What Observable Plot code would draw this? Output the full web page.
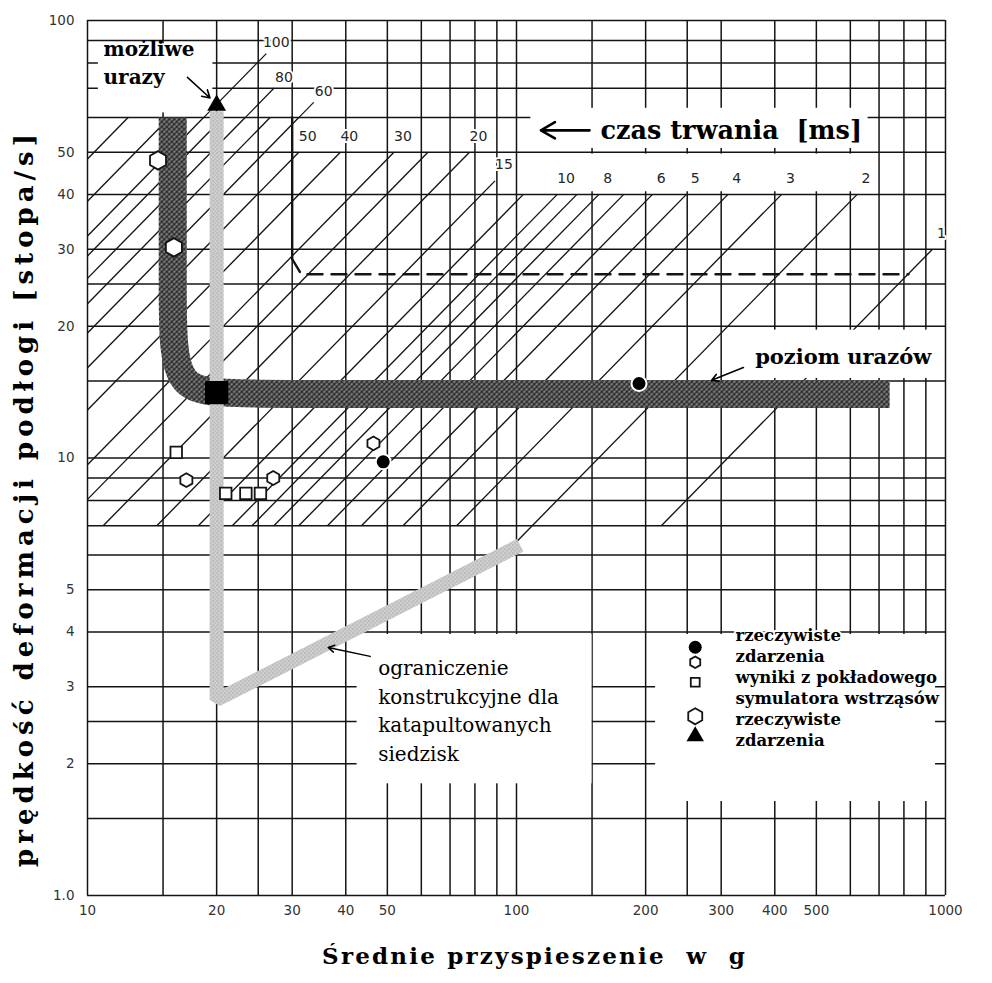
<!DOCTYPE html>
<html lang="pl">
<head>
<meta charset="utf-8">
<title>Poziom urazów – prędkość deformacji podłogi</title>
<script src="https://cdn.jsdelivr.net/npm/d3@7"></script>
<script src="https://cdn.jsdelivr.net/npm/@observablehq/plot@0.6"></script>
<style>
  html, body { margin: 0; padding: 0; background: #fff; }
  #chart svg { display: block; }
</style>
</head>
<body>
<div id="chart"></div>
<script>
// ---- Graph-paper rulings and axis ticks (log–log) ----
const gridG = [10, 15, 20, 25, 30, 40, 50, 60, 70, 80, 90, 100, 150, 200, 250, 300, 400, 500, 600, 700, 800, 900, 1000];
const gridV = [1, 1.5, 2, 2.5, 3, 4, 5, 6, 7, 8, 9, 10, 15, 20, 25, 30, 40, 50, 60, 70, 80, 90, 100];
const tickG = [10, 20, 30, 40, 50, 100, 200, 300, 400, 500, 1000];
const tickV = [1, 2, 3, 4, 5, 10, 20, 30, 40, 50, 100];

// ---- Constant-duration lines [ms], each running between a lower and an upper velocity [ft/s] ----
const durationMs   = [150, 120, 100, 90, 80, 70, 60, 50, 40, 30, 25, 20, 15, 12, 10, 9, 8, 7, 6, 5, 4, 3, 2, 1];
const durationTopV = [60, 60, 60, 60, 60, 60, 60, 50, 50, 50, 50, 50, 43, 40, 40, 40, 40, 40, 40, 40, 40, 40, 40, 30];
const durationLowV = [7, 7, 7, 7, 7, 7, 7, 7, 7, 7, 7, 7, 7, 7, 7, 7, 7, 7, 7, 7, 7, 7, 6.1, 7];
const durationLabelled = [100, 80, 60, 50, 40, 30, 20, 15, 10, 8, 6, 5, 4, 3, 2, 1];
// lines continued above the hatched field up to their labels
const leaderMs   = [100, 80, 60];
const leaderTopV = [84, 70, 65];

// ---- Injury level band (control points of the rounded L) ----
const injuryG = [15.8, 15.8, 15.8, 22.5, 741];
const injuryV = [60, 23, 14, 14, 14];

// ---- Design limit for ejection seats ----
const seatG = [20, 20, 102];
const seatV = [62, 2.8, 6.32];

// ---- Dashed boundary ----
const boundG = [30, 30, 31.5, 820];
const boundV = [60, 28.5, 26.3, 26.3];

// ---- Observations ----
const eventsFilled   = [{g: 48.9, v: 9.8}, {g: 193, v: 14.8}];                     // rzeczywiste zdarzenia ●
const eventsSmall    = [{g: 17.0, v: 8.9}, {g: 27.1, v: 9.0}, {g: 46.4, v: 10.8}];   // rzeczywiste zdarzenia ○
const simulator      = [{g: 16.1, v: 10.3}, {g: 21.0, v: 8.3}, {g: 23.4, v: 8.3}, {g: 25.3, v: 8.3}]; // symulator □
const eventsLarge    = [{g: 14.6, v: 47.9}, {g: 15.9, v: 30.3}];                    // rzeczywiste zdarzenia ◇
const eventsInjury   = [{g: 20, v: 64}];                                             // ▲
const bandJunction   = [{g: 20, v: 14.1}];

const legendLines = ["rzeczywiste", "zdarzenia", "wyniki z pokładowego", "symulatora wstrząsów", "rzeczywiste", "zdarzenia"];

const X_TITLE = "Średnie przyspieszenie  w  g";
const Y_TITLE = "prędkość deformacji podłogi [stopa/s]";

// ---- Derived geometry ----
const FT_S_PER_G_MS = 0.032174; // velocity gained by 1 g held for 1 ms, ft/s
const hatch = durationMs.map((t, i) => {
  const k = FT_S_PER_G_MS * t;
  let g1 = durationLowV[i] / k, v1 = durationLowV[i];
  if (g1 < 10) { g1 = 10; v1 = k * 10; }
  return {t, g1, v1, g2: durationTopV[i] / k, v2: durationTopV[i]};
});
const leaders = leaderMs.map((t, i) => {
  const k = FT_S_PER_G_MS * t;
  const v1 = durationTopV[durationMs.indexOf(t)];
  return {t, g1: v1 / k, v1, g2: leaderTopV[i] / k, v2: leaderTopV[i]};
});
const durationLabels = durationLabelled.map(t => {
  const k = FT_S_PER_G_MS * t;
  const li = leaderMs.indexOf(t);
  const v = li >= 0 ? leaderTopV[li] : durationTopV[durationMs.indexOf(t)];
  return {t, g: v / k, v, leader: li >= 0};
});
const injuryPath = injuryG.map((g, i) => ({g, v: injuryV[i]}));
const seatPath = seatG.map((g, i) => ({g, v: seatV[i]}));
const boundPath = boundG.map((g, i) => ({g, v: boundV[i]}));

// white label panels that interrupt the ruling
const panels = [
  {g1: 10.6, g2: 19.6, v1: 61.5, v2: 88.5},
  {g1: 108, g2: 660, v1: 51, v2: 63},
  {g1: 108, g2: 680, v1: 40.6, v2: 49.5},
  {g1: 320, g2: 950, v1: 15.2, v2: 19.6},
  {g1: 42.5, g2: 150, v1: 1.8, v2: 3.95},
  {g1: 211, g2: 948, v1: 1.64, v2: 3.95}
];

const SERIF = "DejaVu Serif, Liberation Serif, serif";
const SANS = "DejaVu Sans, Liberation Sans, sans-serif";
const INK = "#141414";

const legendAt = {g: 261, v: 3.0};
const legendTextAt = {g: 324, v: 3.0};

const labelStyle = {fontSize: 14, fill: "#262626", stroke: "#fff", strokeWidth: 4, paintOrder: "stroke", fontFamily: SANS};

const chart = Plot.plot({
  width: 992,
  height: 983,
  marginLeft: 87,
  marginRight: 47,
  marginTop: 20,
  marginBottom: 88,
  x: {type: "log", domain: [10, 1000]},
  y: {type: "log", domain: [1, 100]},
  style: {background: "#fff", color: INK, fontFamily: SANS, overflow: "visible"},
  marks: [
    // ruling
    Plot.ruleX(gridG, {stroke: INK, strokeWidth: 1.5}),
    Plot.ruleY(gridV, {stroke: INK, strokeWidth: 1.5}),
    // constant-duration hatch
    Plot.link(hatch, {x1: "g1", y1: "v1", x2: "g2", y2: "v2", stroke: INK, strokeWidth: 1.35}),
    // label panels
    Plot.rect(panels, {x1: "g1", x2: "g2", y1: "v1", y2: "v2", fill: "#fff"}),
    Plot.link(leaders, {x1: "g1", y1: "v1", x2: "g2", y2: "v2", stroke: INK, strokeWidth: 1.2}),
    // dashed boundary
    Plot.line(boundPath.slice(0, 2), {x: "g", y: "v", stroke: INK, strokeWidth: 2.4}),
    Plot.line(boundPath.slice(1), {x: "g", y: "v", stroke: INK, strokeWidth: 2.4, strokeDasharray: "15,9"}),
    // injury level band
    Plot.line(injuryPath, {x: "g", y: "v", curve: "basis", stroke: "url(#weave)", strokeWidth: 28, strokeLinecap: "butt"}),
    // ejection seat design limit
    Plot.line(seatPath, {x: "g", y: "v", stroke: "url(#stipple)", strokeWidth: 14, strokeLinejoin: "bevel", strokeLinecap: "butt"}),
    Plot.dot(bandJunction, {x: "g", y: "v", symbol: "square", r: 12, fill: "#000", stroke: "#000", strokeWidth: 2, strokeLinejoin: "round"}),
    // observations
    Plot.dot(simulator, {x: "g", y: "v", symbol: "square", r: 6.5, fill: "#fff", stroke: INK, strokeWidth: 1.8}),
    Plot.dot(eventsSmall, {x: "g", y: "v", symbol: "hexagon", r: 6, fill: "#fff", stroke: INK, strokeWidth: 1.8}),
    Plot.dot(eventsLarge, {x: "g", y: "v", symbol: "hexagon", r: 8, fill: "#fff", stroke: INK, strokeWidth: 1.8}),
    Plot.dot(eventsFilled, {x: "g", y: "v", r: 7.5, fill: "#000", stroke: "#fff", strokeWidth: 2}),
    Plot.dot(eventsInjury, {x: "g", y: "v", symbol: "triangle", r: 7, fill: "#000"}),
    // duration labels
    Plot.text(durationLabels.filter(d => !d.leader), {x: "g", y: "v", text: d => String(d.t), dx: 9, dy: -16, ...labelStyle}),
    Plot.text(durationLabels.filter(d => d.leader), {x: "g", y: "v", text: d => String(d.t), dx: 10, dy: -11, ...labelStyle}),
    // annotations
    Plot.text(["czas trwania  [ms]"], {x: 157, y: 56.1, text: d => d, textAnchor: "start", fontSize: 25.5, fontWeight: "bold",
      fontFamily: SERIF, fill: "#000", stroke: "#fff", strokeWidth: 6, paintOrder: "stroke"}),
    Plot.arrow([0], {x1: 148, y1: 56.1, x2: 114, y2: 56.1, stroke: "#000", strokeWidth: 2.6, headLength: 10}),
    Plot.text(["poziom urazów"], {x: 360, y: 17.0, text: d => d, textAnchor: "start", fontSize: 21, fontWeight: "bold",
      fontFamily: SERIF, fill: "#000", stroke: "#fff", strokeWidth: 6, paintOrder: "stroke"}),
    Plot.arrow([0], {x1: 338, y1: 16.1, x2: 285, y2: 15.05, stroke: "#000", strokeWidth: 1.6, headLength: 7}),
    Plot.text(["możliwe\nurazy"], {x: 10.9, y: 80.6, text: d => d, textAnchor: "start", lineHeight: 1.4, fontSize: 20,
      fontWeight: "bold", fontFamily: SERIF, fill: "#000"}),
    Plot.arrow([0], {x1: 17.1, y1: 74.1, x2: 19.3, y2: 66.5, stroke: "#000", strokeWidth: 1.6, headLength: 8}),
    Plot.text(["ograniczenie\nkonstrukcyjne dla\nkatapultowanych\nsiedzisk"], {x: 47.6, y: 2.67, text: d => d,
      textAnchor: "start", lineHeight: 1.42, fontSize: 20, fontFamily: SERIF, fill: "#000"}),
    Plot.arrow([0], {x1: 45.6, y1: 3.52, x2: 36.4, y2: 3.69, stroke: "#000", strokeWidth: 1.5, headLength: 7}),
    // legend
    Plot.text([legendLines.join("\n")], {x: legendTextAt.g, y: legendTextAt.v, text: d => d, textAnchor: "start",
      lineHeight: 1.28, fontSize: 16.5, fontWeight: "bold", fontFamily: SERIF, fill: "#000",
      stroke: "#fff", strokeWidth: 4, paintOrder: "stroke"}),
    Plot.dot([legendAt], {x: "g", y: "v", dy: -39.5, r: 6.5, fill: "#000"}),
    Plot.dot([legendAt], {x: "g", y: "v", dy: -24.5, symbol: "hexagon", r: 5, fill: "#fff", stroke: INK, strokeWidth: 1.8}),
    Plot.dot([legendAt], {x: "g", y: "v", dy: -4.5, symbol: "square", r: 5, fill: "#fff", stroke: INK, strokeWidth: 1.8}),
    Plot.dot([legendAt], {x: "g", y: "v", dy: 29.5, symbol: "hexagon", r: 7, fill: "#fff", stroke: INK, strokeWidth: 1.8}),
    Plot.dot([legendAt], {x: "g", y: "v", dy: 49.5, symbol: "triangle", r: 6.5, fill: "#000"}),
    // axes
    Plot.axisX({ticks: tickG, tickSize: 0, tickPadding: 10, tickFormat: d => String(d), fontSize: 13.5, label: null,
      fontFamily: SANS, fill: "#333"}),
    Plot.axisY({ticks: tickV, tickSize: 0, tickPadding: 13, tickFormat: d => d === 1 ? "1.0" : String(d), fontSize: 13.5,
      label: null, fontFamily: SANS, fill: "#333"}),
    Plot.text([X_TITLE], {frameAnchor: "bottom", textAnchor: "middle", dx: 18, dy: 68, text: d => d,
      fontSize: 23, fontWeight: "bold", fontFamily: SERIF, fill: "#000"}),
    Plot.text([Y_TITLE], {frameAnchor: "left", textAnchor: "middle", dx: -63, dy: 40,
      rotate: -90, text: d => d, fontSize: 26, fontWeight: "bold", fontFamily: SERIF, fill: "#000"})
  ]
});

// textures for the two bands
const defs = document.createElementNS("http://www.w3.org/2000/svg", "defs");
defs.innerHTML = `
  <pattern id="weave" patternUnits="userSpaceOnUse" width="5" height="5">
    <rect width="5" height="5" fill="#3a3a3a"/>
    <path d="M-1,1 L1,-1 M0,5 L5,0 M4,6 L6,4" stroke="#b0b0b0" stroke-width="1.1"/>
    <path d="M0,0 L5,5" stroke="#111" stroke-width="0.9"/>
  </pattern>
  <pattern id="stipple" patternUnits="userSpaceOnUse" width="4" height="4">
    <rect width="4" height="4" fill="#d2d2d2"/>
    <rect x="0" y="0" width="1.3" height="1.3" fill="#969696"/>
    <rect x="2" y="2" width="1.3" height="1.3" fill="#a4a4a4"/>
  </pattern>`;
chart.insertBefore(defs, chart.firstChild);

// loose letter spacing of the axis titles
const titleText = t => d3.select(chart).selectAll("text").filter(function () { return this.textContent === t; });
titleText(Y_TITLE).style("letter-spacing", "5px");
titleText(X_TITLE).style("letter-spacing", "2.2px").style("white-space", "pre");

document.getElementById("chart").appendChild(chart);
</script>
</body>
</html>
